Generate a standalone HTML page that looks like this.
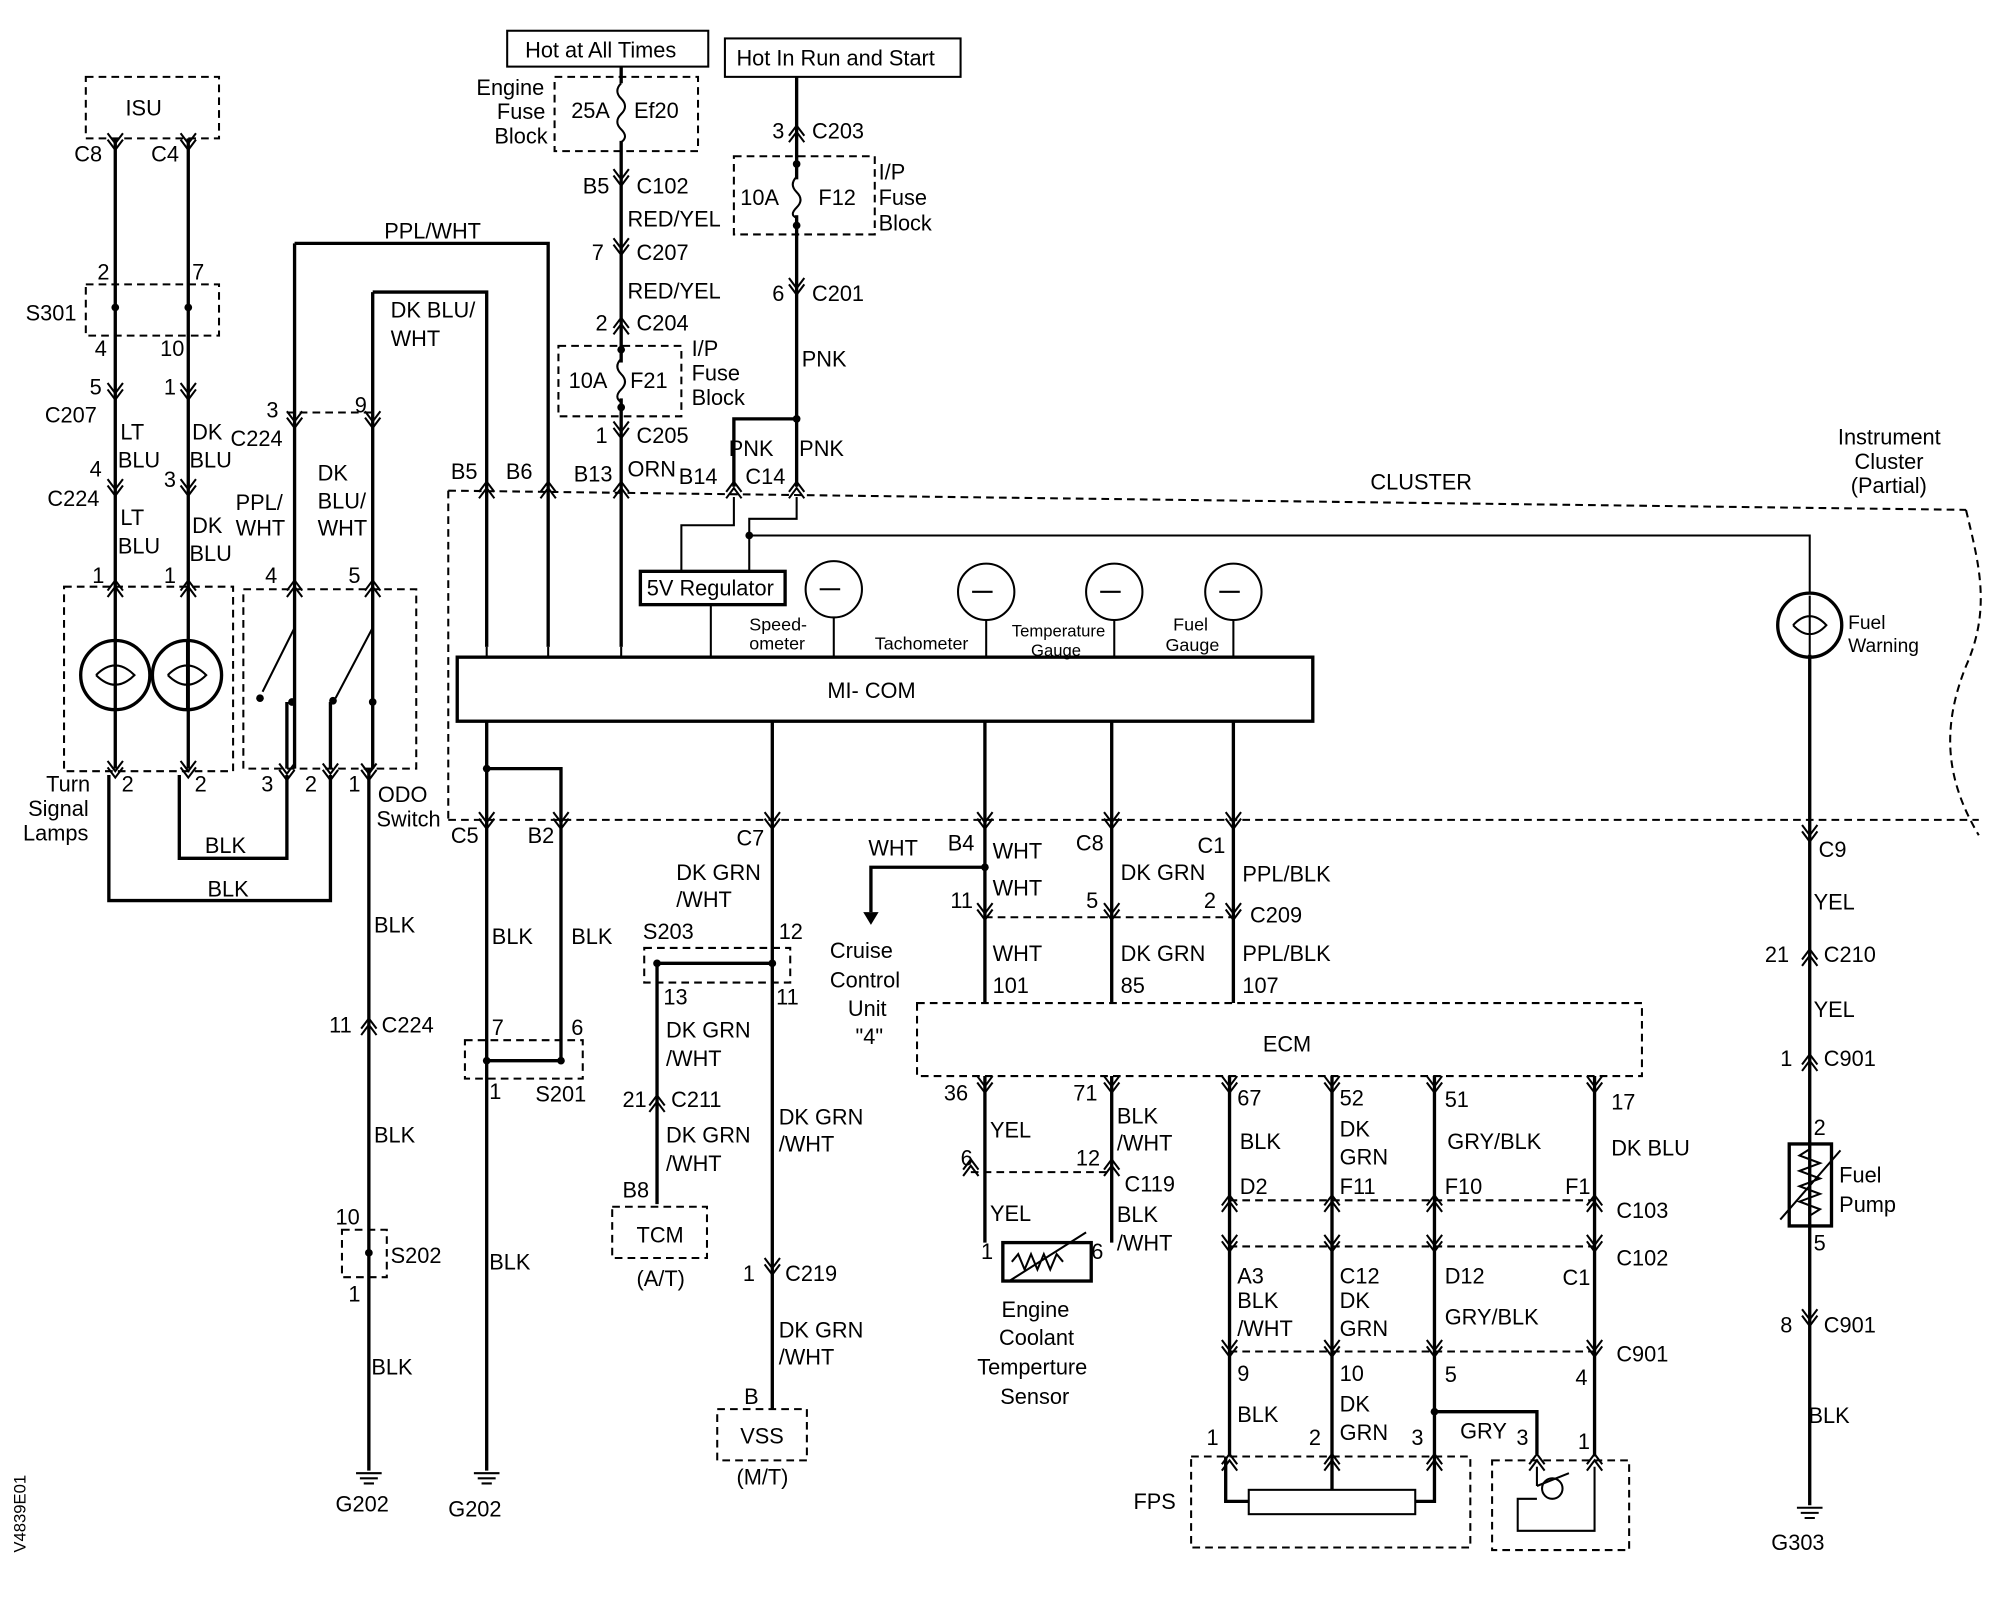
<!DOCTYPE html>
<html><head><meta charset="utf-8"><style>
html,body{margin:0;padding:0;background:#fff;}
svg{display:block;}
text{font-family:"Liberation Sans",Arial,sans-serif;font-size:17px;fill:#000;}
.w{stroke:#000;stroke-width:2.6;fill:none;}
.t{stroke:#000;stroke-width:1.6;fill:none;}
.d{stroke:#000;stroke-width:1.6;fill:none;stroke-dasharray:6,4;}
</style></head><body>
<svg width="1998" height="1600" viewBox="0 0 1560 1249" preserveAspectRatio="none" xmlns="http://www.w3.org/2000/svg">
<defs>
<g id="up"><path class="t" d="M-6,6 L0,-2 L6,6 M-6,11 L0,3 L6,11"/></g>
<g id="dn"><path class="t" d="M-6,-6 L0,2 L6,-6 M-6,-11 L0,-3 L6,-11"/></g>
<g id="gnd"><path class="t" d="M-10,0 H10 M-7,4 H7 M-4,8 H4"/></g>
</defs>
<rect width="1560" height="1249" fill="#fff"/>

<!-- ISU -->
<rect class="d" x="67" y="60" width="104" height="48"/>
<text x="98" y="90">ISU</text>
<text x="58" y="126">C8</text><text x="118" y="126">C4</text>
<path class="w" d="M90,108 V600 M147,108 V600"/>
<use href="#dn" x="90" y="115"/><use href="#dn" x="147" y="115"/>
<rect class="d" x="67" y="222" width="104" height="40"/>
<circle cx="90" cy="240" r="3"/><circle cx="147" cy="240" r="3"/>
<text x="76" y="218">2</text><text x="150" y="218">7</text>
<text x="74" y="278">4</text><text x="125" y="278">10</text>
<text x="20" y="250">S301</text>
<use href="#dn" x="90" y="310"/><use href="#dn" x="147" y="310"/>
<text x="70" y="308">5</text><text x="128" y="308">1</text>
<text x="35" y="330">C207</text>
<text x="94" y="343">LT</text><text x="92" y="365">BLU</text>
<text x="150" y="343">DK</text><text x="148" y="365">BLU</text>
<use href="#dn" x="90" y="385"/><use href="#dn" x="147" y="385"/>
<text x="70" y="372">4</text><text x="128" y="380">3</text>
<text x="37" y="395">C224</text>
<text x="94" y="410">LT</text><text x="92" y="432">BLU</text>
<text x="150" y="416">DK</text><text x="148" y="438">BLU</text>
<use href="#up" x="90" y="455"/><use href="#up" x="147" y="455"/>
<text x="72" y="455">1</text><text x="128" y="455">1</text>
<!-- lamps -->
<rect class="d" x="50" y="458" width="132" height="144"/>
<circle cx="90" cy="527" r="27" fill="#fff" class="w"/>
<circle cx="146" cy="527" r="27" fill="#fff" class="w"/>
<path class="t" d="M75,527 Q90,512 105,527 Q90,542 75,527 M90,500 V554 M131,527 Q146,512 161,527 Q146,542 131,527 M146,500 V554"/>
<use href="#dn" x="90" y="605"/><use href="#dn" x="147" y="605"/>
<text x="95" y="618">2</text><text x="152" y="618">2</text>
<text x="36" y="618">Turn</text><text x="22" y="637">Signal</text><text x="18" y="656">Lamps</text>
<path class="w" d="M140,605 V670 H224 V605 M85,605 V703 H258 V605"/>
<text x="160" y="666">BLK</text><text x="162" y="700">BLK</text>

<!-- ODO switch -->
<rect class="d" x="190" y="460" width="135" height="140"/>
<path class="w" d="M230,190 H428 V505 M230,190 V600 M291,228 H380 V505 M291,228 V600"/>
<path class="d" d="M224,322 H291"/>
<use href="#dn" x="230" y="332"/><use href="#dn" x="291" y="332"/>
<text x="208" y="326">3</text><text x="277" y="322">9</text>
<text x="180" y="348">C224</text>
<text x="300" y="186">PPL/WHT</text>
<text x="305" y="248">DK BLU/</text><text x="305" y="270">WHT</text>
<text x="184" y="398">PPL/</text><text x="184" y="418">WHT</text>
<text x="248" y="375">DK</text><text x="248" y="397">BLU/</text><text x="248" y="418">WHT</text>
<use href="#up" x="230" y="455"/><use href="#up" x="291" y="455"/>
<text x="207" y="455">4</text><text x="272" y="455">5</text>
<path class="t" d="M230,465 V490 L205,540 M291,465 V490 L262,545"/>
<circle cx="203" cy="545" r="3"/><circle cx="228" cy="548" r="3"/><circle cx="260" cy="547" r="3"/><circle cx="291" cy="548" r="3"/>
<path class="w" d="M224,548 V600 M258,548 V600"/>
<use href="#dn" x="224" y="607"/><use href="#dn" x="258" y="607"/><use href="#dn" x="288" y="607"/>
<text x="204" y="618">3</text><text x="238" y="618">2</text><text x="272" y="618">1</text>
<text x="295" y="626">ODO</text><text x="294" y="645">Switch</text>
<path class="w" d="M288,600 V1148"/>
<text x="292" y="728">BLK</text>
<use href="#up" x="288" y="797"/><text x="257" y="806">11</text><text x="298" y="806">C224</text>
<text x="292" y="892">BLK</text>
<rect class="d" x="267" y="960" width="35" height="37"/><circle cx="288" cy="978" r="3"/>
<text x="262" y="956">10</text><text x="305" y="986">S202</text><text x="272" y="1016">1</text>
<text x="290" y="1073">BLK</text>
<use href="#gnd" x="288" y="1150"/><text x="262" y="1180">G202</text>

<!-- fuses left chain -->
<rect class="t" x="396" y="24" width="157" height="28"/><text x="410" y="45">Hot at All Times</text>
<rect class="d" x="433" y="60" width="112" height="58"/>
<text x="372" y="74">Engine</text><text x="388" y="93">Fuse</text><text x="386" y="112">Block</text>
<text x="446" y="92">25A</text><text x="495" y="92">Ef20</text>
<path class="w" d="M485,52 V65 M485,110 V505"/>
<path class="t" d="M485,65 q-6,6 0,12 q6,6 0,12 q-6,6 0,12 q6,6 0,10"/>
<use href="#dn" x="485" y="143"/><text x="455" y="151">B5</text><text x="497" y="151">C102</text>
<text x="490" y="177">RED/YEL</text>
<use href="#dn" x="485" y="197"/><text x="462" y="203">7</text><text x="497" y="203">C207</text>
<text x="490" y="233">RED/YEL</text>
<use href="#up" x="485" y="250"/><text x="465" y="258">2</text><text x="497" y="258">C204</text>
<rect class="d" x="436" y="270" width="96" height="55"/>
<circle cx="485" cy="273" r="3"/><circle cx="485" cy="318" r="3"/>
<rect x="480" y="283" width="10" height="28" fill="#fff"/>
<path class="t" d="M485,280 q-6,6 0,12 q6,6 0,12 q-6,6 0,10"/>
<text x="444" y="303">10A</text><text x="492" y="303">F21</text>
<text x="540" y="278">I/P</text><text x="540" y="297">Fuse</text><text x="540" y="316">Block</text>
<use href="#dn" x="485" y="340"/><text x="465" y="346">1</text><text x="497" y="346">C205</text>
<text x="490" y="372">ORN</text>

<!-- run/start chain -->
<rect class="t" x="566" y="30" width="184" height="30"/><text x="575" y="51">Hot In Run and Start</text>
<path class="w" d="M622,60 V380 M622,327 H573 V380"/>
<use href="#up" x="622" y="100"/><text x="603" y="108">3</text><text x="634" y="108">C203</text>
<rect class="d" x="573" y="122" width="110" height="61"/>
<circle cx="622" cy="128" r="3"/><circle cx="622" cy="176" r="3"/>
<rect x="617" y="140" width="10" height="28" fill="#fff"/>
<path class="t" d="M622,138 q-6,6 0,12 q6,6 0,12 q-6,6 0,8"/>
<text x="578" y="160">10A</text><text x="639" y="160">F12</text>
<text x="686" y="140">I/P</text><text x="686" y="160">Fuse</text><text x="686" y="180">Block</text>
<use href="#dn" x="622" y="228"/><text x="603" y="235">6</text><text x="634" y="235">C201</text>
<text x="626" y="286">PNK</text>
<circle cx="622" cy="327" r="3"/>
<text x="569" y="356">PNK</text><text x="624" y="356">PNK</text>

<!-- cluster boundary -->
<path class="d" d="M350,383 L1535,398 M350,383 V640 M350,640 H1545"/>
<path class="d" d="M1535,398 C1545,440 1555,475 1535,520 C1515,570 1520,610 1545,652"/>
<text x="1070" y="382">CLUSTER</text>
<text x="1435" y="347">Instrument</text><text x="1448" y="366">Cluster</text><text x="1445" y="385">(Partial)</text>

<!-- top connectors cluster -->
<use href="#up" x="380" y="378"/><use href="#up" x="428" y="378"/><use href="#up" x="485" y="378"/><use href="#up" x="573" y="378"/><use href="#up" x="622" y="378"/>
<text x="352" y="374">B5</text><text x="395" y="374">B6</text><text x="448" y="376">B13</text><text x="530" y="378">B14</text><text x="582" y="378">C14</text>
<path class="t" d="M573,388 V410 H532 V446 M622,388 V405 H585 V446 M585,418 H1413 V462"/>
<circle cx="585" cy="418" r="3"/>
<rect class="w" x="500" y="446" width="113" height="26"/><text x="505" y="465">5V Regulator</text>
<path class="t" d="M555,472 V513"/>
<circle cx="651" cy="460" r="22" class="t"/><circle cx="770" cy="462" r="22" class="t"/><circle cx="870" cy="462" r="22" class="t"/><circle cx="963" cy="462" r="22" class="t"/>
<path class="t" d="M640,460 H656 M759,462 H775 M859,462 H875 M952,462 H968 M651,482 V513 M770,484 V513 M870,484 V513 M963,484 V513"/>
<text x="585" y="492" style="font-size:14px">Speed-</text><text x="585" y="507" style="font-size:14px">ometer</text>
<text x="683" y="507" style="font-size:14px">Tachometer</text>
<text x="790" y="497" style="font-size:13px">Temperature</text><text x="805" y="512" style="font-size:13px">Gauge</text>
<text x="916" y="492" style="font-size:14px">Fuel</text><text x="910" y="508" style="font-size:14px">Gauge</text>
<circle cx="1413" cy="488" r="25" class="w" fill="#fff"/>
<path class="t" d="M1400,488 Q1413,474 1426,488 Q1413,502 1400,488 M1413,465 V511"/>
<text x="1443" y="491" style="font-size:15px">Fuel</text><text x="1443" y="509" style="font-size:15px">Warning</text>
<rect class="w" x="357" y="513" width="668" height="50" fill="#fff"/>
<text x="646" y="545">MI- COM</text>
<path class="t" d="M380,505 V513 M428,505 V513 M485,505 V513"/>

<!-- below MI-COM -->
<path class="w" d="M380,563 V1148 M380,600 H438 V828 H380 M1413,511 V1175"/>
<circle cx="380" cy="600" r="3"/><circle cx="380" cy="828" r="3"/><circle cx="438" cy="828" r="3"/>
<use href="#dn" x="380" y="645"/><use href="#dn" x="438" y="645"/><use href="#dn" x="1413" y="655"/>
<text x="352" y="658">C5</text><text x="412" y="658">B2</text>
<text x="384" y="737">BLK</text><text x="446" y="737">BLK</text>
<rect class="d" x="363" y="812" width="92" height="30"/>
<text x="384" y="808">7</text><text x="446" y="808">6</text><text x="382" y="858">1</text><text x="418" y="860">S201</text>
<text x="382" y="991">BLK</text>
<use href="#gnd" x="380" y="1150"/><text x="350" y="1184">G202</text>

<!-- x=603 -->
<path class="w" d="M603,563 V1100 M603,752 H513 V940"/>
<circle cx="603" cy="752" r="3"/><circle cx="513" cy="752" r="3"/>
<use href="#dn" x="603" y="645"/><text x="575" y="660">C7</text>
<text x="528" y="687">DK GRN</text><text x="528" y="708">/WHT</text>
<rect class="d" x="503" y="740" width="114" height="27"/>
<text x="502" y="733">S203</text><text x="608" y="733">12</text><text x="606" y="784">11</text><text x="518" y="784">13</text>
<text x="520" y="810">DK GRN</text><text x="520" y="832">/WHT</text>
<use href="#up" x="513" y="857"/><text x="486" y="864">21</text><text x="524" y="864">C211</text>
<text x="520" y="892">DK GRN</text><text x="520" y="914">/WHT</text>
<text x="486" y="935">B8</text>
<rect class="d" x="478" y="942" width="74" height="40"/><text x="497" y="970">TCM</text>
<text x="497" y="1004">(A/T)</text>
<text x="608" y="878">DK GRN</text><text x="608" y="899">/WHT</text>
<use href="#dn" x="603" y="993"/><text x="580" y="1000">1</text><text x="613" y="1000">C219</text>
<text x="608" y="1044">DK GRN</text><text x="608" y="1065">/WHT</text>
<text x="581" y="1096">B</text>
<rect class="d" x="560" y="1100" width="70" height="40"/><text x="578" y="1127">VSS</text>
<text x="575" y="1159">(M/T)</text>

<!-- ECM wires top -->
<path class="w" d="M769,563 V783 M868,563 V783 M963,563 V783 M769,677 H680 V712"/>
<path d="M674,712 L686,712 L680,722 Z"/>
<circle cx="769" cy="677" r="3"/>
<use href="#dn" x="769" y="645"/><use href="#dn" x="868" y="645"/><use href="#dn" x="963" y="645"/>
<text x="678" y="668">WHT</text><text x="740" y="664">B4</text><text x="775" y="670">WHT</text>
<text x="775" y="699">WHT</text>
<text x="648" y="748">Cruise</text><text x="648" y="771">Control</text><text x="662" y="793">Unit</text><text x="668" y="815">"4"</text>
<text x="840" y="664">C8</text><text x="875" y="687">DK GRN</text>
<text x="935" y="666">C1</text><text x="970" y="688">PPL/BLK</text>
<path class="d" d="M769,716 H963"/>
<use href="#dn" x="769" y="716"/><use href="#dn" x="868" y="716"/><use href="#dn" x="963" y="716"/>
<text x="742" y="709">11</text><text x="848" y="709">5</text><text x="940" y="709">2</text><text x="976" y="720">C209</text>
<text x="775" y="750">WHT</text><text x="875" y="750">DK GRN</text><text x="970" y="750">PPL/BLK</text>
<text x="775" y="775">101</text><text x="875" y="775">85</text><text x="970" y="775">107</text>
<rect class="d" x="716" y="783" width="566" height="57"/>
<text x="986" y="821">ECM</text>

<!-- below ECM -->
<path class="w" d="M769,840 V970 M868,840 V970 M960,840 V1137 M1040,840 V1163 M1120,840 V1172 H1105 M1245,840 V1137 M1120,1102 H1200 V1135"/>
<circle cx="1120" cy="1102" r="3"/>
<use href="#dn" x="769" y="851"/><use href="#dn" x="868" y="851"/><use href="#dn" x="960" y="851"/><use href="#dn" x="1040" y="851"/><use href="#dn" x="1120" y="851"/><use href="#dn" x="1245" y="851"/>
<text x="737" y="859">36</text><text x="838" y="859">71</text><text x="966" y="863">67</text><text x="1046" y="863">52</text><text x="1128" y="864">51</text><text x="1258" y="866">17</text>
<text x="773" y="888">YEL</text><text x="872" y="877">BLK</text><text x="872" y="898">/WHT</text>
<text x="968" y="897">BLK</text><text x="1046" y="887">DK</text><text x="1046" y="909">GRN</text>
<text x="1130" y="897">GRY/BLK</text><text x="1258" y="902">DK BLU</text>
<path class="d" d="M758,915 H868"/>
<use href="#up" x="758" y="907"/><use href="#up" x="868" y="907"/>
<text x="750" y="910">6</text><text x="840" y="910">12</text><text x="878" y="930">C119</text>
<text x="773" y="953">YEL</text><text x="872" y="954">BLK</text><text x="872" y="976">/WHT</text>
<text x="766" y="983">1</text><text x="852" y="983">6</text>
<rect class="w" x="783" y="970" width="69" height="30"/>
<path class="t" d="M790,985 l5,-6 l5,12 l5,-12 l5,12 l5,-12 l5,12 l5,-12 l5,6 M788,1000 L848,962"/>
<text x="782" y="1028">Engine</text><text x="780" y="1050">Coolant</text><text x="763" y="1073">Temperture</text><text x="781" y="1096">Sensor</text>
<path class="d" d="M960,937 H1245 M960,973 H1245 M960,1055 H1245"/>
<use href="#up" x="960" y="935"/><use href="#up" x="1040" y="935"/><use href="#up" x="1120" y="935"/><use href="#up" x="1245" y="935"/>
<use href="#dn" x="960" y="975"/><use href="#dn" x="1040" y="975"/><use href="#dn" x="1120" y="975"/><use href="#dn" x="1245" y="975"/>
<use href="#dn" x="960" y="1057"/><use href="#dn" x="1040" y="1057"/><use href="#dn" x="1120" y="1057"/><use href="#dn" x="1245" y="1057"/>
<text x="968" y="932">D2</text><text x="1046" y="932">F11</text><text x="1128" y="932">F10</text><text x="1222" y="932">F1</text><text x="1262" y="951">C103</text>
<text x="966" y="1002">A3</text><text x="1046" y="1002">C12</text><text x="1128" y="1002">D12</text><text x="1220" y="1003">C1</text><text x="1262" y="988">C102</text>
<text x="966" y="1021">BLK</text><text x="966" y="1043">/WHT</text>
<text x="1046" y="1021">DK</text><text x="1046" y="1043">GRN</text>
<text x="1128" y="1034">GRY/BLK</text><text x="1262" y="1063">C901</text>
<text x="966" y="1078">9</text><text x="1046" y="1078">10</text><text x="1128" y="1079">5</text><text x="1230" y="1081">4</text>
<text x="966" y="1110">BLK</text><text x="1046" y="1102">DK</text><text x="1046" y="1124">GRN</text><text x="1140" y="1123">GRY</text>
<use href="#up" x="960" y="1137"/><use href="#up" x="1040" y="1137"/><use href="#up" x="1120" y="1137"/><use href="#up" x="1200" y="1137"/><use href="#up" x="1245" y="1137"/>
<text x="942" y="1128">1</text><text x="1022" y="1128">2</text><text x="1102" y="1128">3</text><text x="1184" y="1128">3</text><text x="1232" y="1131">1</text>
<rect class="d" x="930" y="1137" width="218" height="71"/>
<rect class="t" x="975" y="1163" width="130" height="19"/>
<path class="w" d="M957,1137 V1172 H975"/>
<text x="885" y="1178">FPS</text>
<rect class="d" x="1165" y="1140" width="107" height="70"/>
<path class="t" d="M1200,1145 V1160 M1245,1145 V1195 H1185 V1170 H1200"/>
<circle cx="1212" cy="1162" r="8" class="t"/><path class="t" d="M1200,1160 L1225,1150"/>

<!-- fuel pump -->
<text x="1420" y="669">C9</text><text x="1416" y="710">YEL</text>
<use href="#up" x="1413" y="743"/><text x="1378" y="751">21</text><text x="1424" y="751">C210</text>
<text x="1416" y="794">YEL</text>
<use href="#up" x="1413" y="825"/><text x="1390" y="832">1</text><text x="1424" y="832">C901</text>
<text x="1416" y="886">2</text>
<rect class="w" x="1397" y="893" width="33" height="64" fill="#fff"/>
<path class="t" d="M1413,897 l-8,5 l16,6 l-16,6 l16,6 l-16,6 l16,6 l-16,6 l16,6 l-8,5 M1390,952 L1437,898"/>
<text x="1416" y="976">5</text><text x="1436" y="923">Fuel</text><text x="1436" y="946">Pump</text>
<use href="#dn" x="1413" y="1033"/><text x="1390" y="1040">8</text><text x="1424" y="1040">C901</text>
<text x="1412" y="1111">BLK</text>
<use href="#gnd" x="1413" y="1177"/><text x="1383" y="1210">G303</text>

<text transform="translate(20,1212) rotate(-90)" style="font-size:13px">V4839E01</text>
</svg>
</body></html>
